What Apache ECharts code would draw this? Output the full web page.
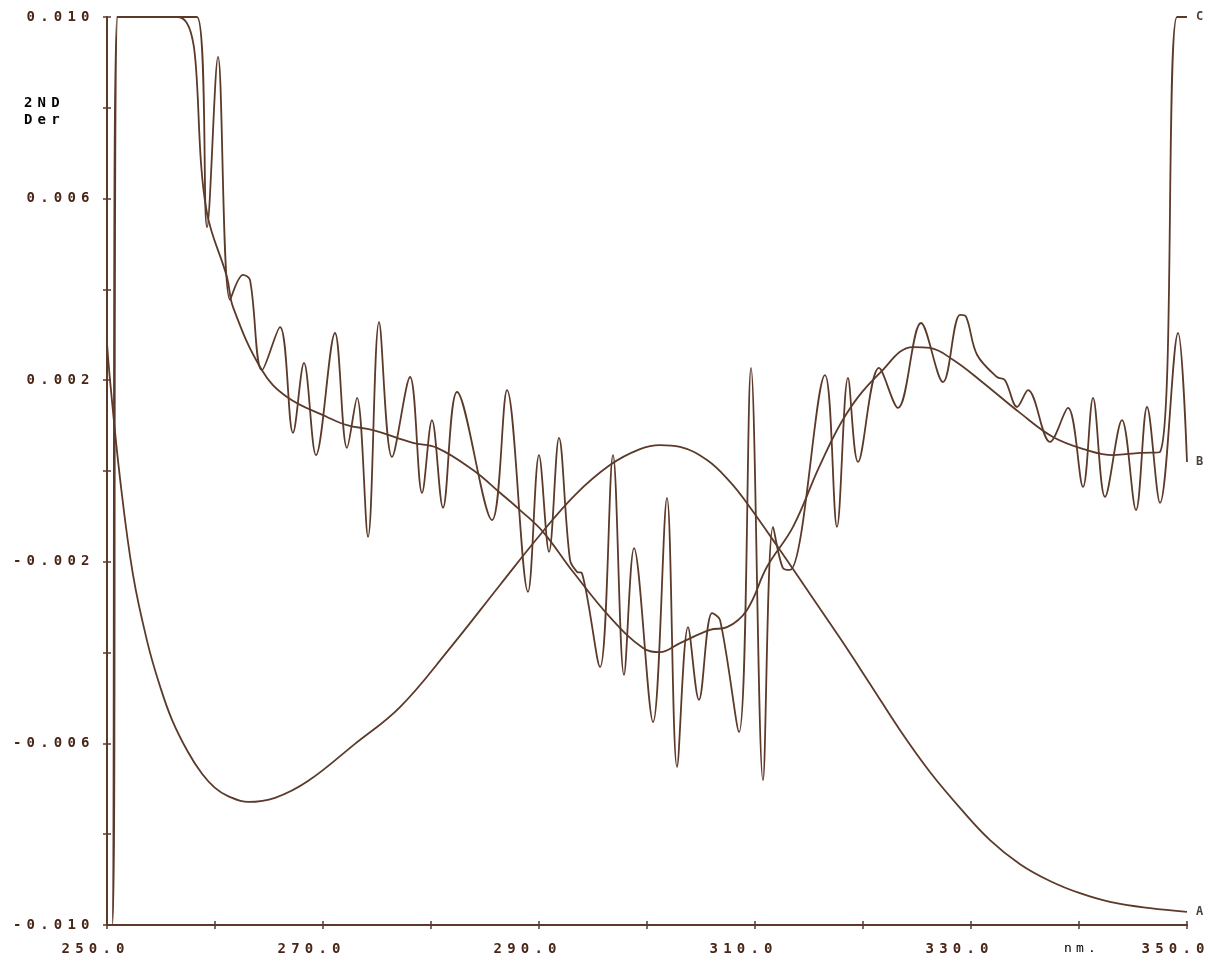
<!DOCTYPE html>
<html>
<head>
<meta charset="utf-8">
<script src="https://cdn.jsdelivr.net/npm/echarts@6/dist/echarts.min.js"></script>
<style>
html,body{margin:0;padding:0;background:#ffffff;}
#chart{width:1210px;height:962px;}
</style>
</head>
<body>
<div id="chart"></div>
<script>
// ---- data ----
const xLabelValues = [250, 270, 290, 310, 330, 350];
const yLabelValues = [0.010, 0.006, 0.002, -0.002, -0.006, -0.010];

// Curve A (smooth hump)
const aX = [250.00, 250.28, 251.20, 252.41, 253.80, 254.91, 256.02, 257.50, 258.80, 260.00, 261.20, 263.06, 265.56, 268.61, 272.96, 277.13, 281.76, 286.39, 290.09, 293.33, 296.57, 299.35, 301.20, 303.06, 305.56, 307.69, 309.26, 312.31, 315.09, 317.87, 320.65, 323.43, 326.20, 328.98, 331.76, 334.54, 337.31, 340.09, 342.87, 346.57, 350.00];
const aY = [0.00282, 0.0020, -0.00015, -0.00229, -0.00383, -0.00474, -0.00548, -0.00619, -0.00667, -0.00698, -0.00716, -0.00729, -0.0072, -0.00683, -0.00601, -0.0052, -0.0039, -0.00251, -0.00141, -0.00053, 0.00013, 0.00048, 0.00057, 0.00053, 0.00024, -0.00024, -0.00071, -0.00174, -0.00271, -0.00368, -0.00469, -0.00571, -0.00663, -0.00742, -0.00813, -0.00866, -0.00903, -0.0093, -0.00949, -0.00963, -0.00971];

// Curve B (noisy second derivative)
const bX = [250.0, 250.46, 250.93, 258.33, 259.26, 260.28, 261.39, 262.59, 263.24, 264.35, 266.02, 267.22, 268.24, 269.35, 271.11, 272.22, 273.15, 274.17, 275.19, 276.39, 278.06, 279.17, 280.09, 281.11, 282.41, 285.65, 287.04, 288.98, 290.00, 290.93, 291.85, 292.87, 293.52, 293.98, 295.65, 296.85, 297.87, 298.80, 300.56, 301.85, 302.78, 303.80, 304.81, 306.02, 306.76, 308.52, 309.63, 310.74, 311.67, 312.59, 313.24, 316.48, 317.59, 318.61, 319.54, 321.48, 323.24, 325.37, 327.41, 328.98, 329.54, 330.56, 332.41, 333.15, 334.26, 335.28, 337.31, 338.98, 340.37, 341.30, 342.41, 343.98, 345.28, 346.30, 347.50, 349.17, 350.0];
const bY = [-0.010, -0.010, 0.010, 0.010, 0.00537, 0.00912, 0.00377, 0.00432, 0.00421, 0.00222, 0.00317, 0.00084, 0.00238, 0.00035, 0.00304, 0.00051, 0.00161, -0.00145, 0.00328, 0.00031, 0.00207, -0.00048, 0.00112, -0.00081, 0.00174, -0.00108, 0.00178, -0.00266, 0.00035, -0.00178, 0.00073, -0.00196, -0.00222, -0.00225, -0.00432, 0.00035, -0.00449, -0.0017, -0.00553, -0.00059, -0.00652, -0.00344, -0.00504, -0.00313, -0.00328, -0.00575, 0.00227, -0.00681, -0.00123, -0.00214, -0.00218, 0.00211, -0.00123, 0.00205, 0.0002, 0.00227, 0.00139, 0.00326, 0.00196, 0.00344, 0.0034, 0.00256, 0.00207, 0.002, 0.00141, 0.00178, 0.00064, 0.00139, -0.00035, 0.00161, -0.00057, 0.00112, -0.00086, 0.00141, -0.0007, 0.00304, 0.0002];

// Curve C (smoothed second derivative)
const cX = [250.0, 250.5, 251.0, 256.57, 259.26, 261.11, 261.67, 264.35, 266.67, 270.37, 272.22, 274.63, 278.33, 280.56, 283.89, 286.39, 288.24, 290.37, 293.15, 296.57, 299.63, 301.20, 303.06, 305.83, 307.41, 309.26, 311.11, 313.52, 316.02, 318.52, 321.57, 324.63, 326.20, 328.33, 330.83, 334.54, 337.59, 340.74, 343.15, 345.65, 347.50, 349.07, 350.0];
const cY = [-0.010, -0.010, 0.010, 0.010, 0.00568, 0.00427, 0.00361, 0.00222, 0.00163, 0.00119, 0.00101, 0.0009, 0.00062, 0.00051, 0.00002, -0.00048, -0.00086, -0.00134, -0.00222, -0.00322, -0.0039, -0.00399, -0.00379, -0.0035, -0.00344, -0.00306, -0.00211, -0.00123, 0.00013, 0.00128, 0.00216, 0.00273, 0.00271, 0.00245, 0.002, 0.00128, 0.00075, 0.00046, 0.00035, 0.0004, 0.00042, 0.010, 0.010];

const seriesNames = ['A', 'B', 'C'];
const yAxisTitle = ['2ND', 'Der'];
const xUnit = 'nm.';

// ---- styling ----
const INK = '#4a2618';
const LINE = '#5c3a2a';
const FONT = 'DejaVu Sans Mono';

function zip(xs, ys) { return xs.map((x, i) => [x, ys[i]]); }
function spaced(s) { return s.split('').map(ch => '{c|' + ch + '}').join(''); }
const richChar = { c: { width: 13.6, align: 'center', fontFamily: FONT, fontWeight: 'bold', fontSize: 14, color: INK } };

const chart = echarts.init(document.getElementById('chart'));

function lineSeries(name, xs, ys, smooth) {
  return {
    name: name, type: 'line', xAxisIndex: 0, yAxisIndex: 0,
    data: zip(xs, ys), showSymbol: false, smooth: smooth, clip: true,
    lineStyle: { color: LINE, width: 1.8 },
    endLabel: { show: true, formatter: name, distance: 9, color: '#4f4038', fontFamily: FONT, fontSize: 12, fontWeight: 'bold' },
    animation: false, z: 3
  };
}

const option = {
  backgroundColor: '#ffffff',
  animation: false,
  grid: { left: 107, right: 23, top: 17, bottom: 37, containLabel: false },
  xAxis: [
    {
      type: 'value', min: 250, max: 350, interval: 10,
      axisLine: { show: true, onZero: false, lineStyle: { color: LINE, width: 2 } },
      axisTick: { show: true, length: 4, lineStyle: { color: LINE, width: 1.5 } },
      splitLine: { show: false },
      axisLabel: {
        margin: 17, padding: [0, 28, 0, 0],
        formatter: v => xLabelValues.indexOf(Math.round(v)) >= 0 ? spaced(v.toFixed(1)) : '',
        rich: richChar
      }
    },
    {
      type: 'value', min: 250, max: 350, interval: 10, position: 'bottom',
      axisLine: { show: false, onZero: false },
      axisTick: { show: true, inside: true, length: 4, lineStyle: { color: LINE, width: 1.5 } },
      axisLabel: { show: false }, splitLine: { show: false }
    }
  ],
  yAxis: [
    {
      type: 'value', min: -0.010, max: 0.010, interval: 0.002,
      axisLine: { show: true, onZero: false, lineStyle: { color: LINE, width: 2 } },
      axisTick: { show: true, length: 4, lineStyle: { color: LINE, width: 1.5 } },
      splitLine: { show: false },
      axisLabel: {
        margin: 15,
        formatter: v => yLabelValues.some(t => Math.abs(t - v) < 1e-9) ? spaced(v.toFixed(3)) : '',
        rich: richChar
      }
    },
    {
      type: 'value', min: -0.010, max: 0.010, interval: 0.002, position: 'left',
      axisLine: { show: false, onZero: false },
      axisTick: { show: true, inside: true, length: 4, lineStyle: { color: LINE, width: 1.5 } },
      axisLabel: { show: false }, splitLine: { show: false }
    }
  ],
  graphic: [
    { type: 'text', left: 24, top: 96, style: { text: spaced(yAxisTitle[0]), rich: richChar } },
    { type: 'text', left: 24, top: 113, style: { text: spaced(yAxisTitle[1]), rich: richChar } },
    { type: 'text', left: 1064, top: 942, style: { text: spaced(xUnit), rich: { c: Object.assign({}, richChar.c, { width: 12, fontSize: 13, fontWeight: 'normal' }) } } }
  ],
  series: [
    lineSeries(seriesNames[0], aX, aY, 0.4),
    lineSeries(seriesNames[1], bX, bY, 0.35),
    lineSeries(seriesNames[2], cX, cY, 0.4)
  ]
};
chart.setOption(option);
</script>
</body>
</html>
